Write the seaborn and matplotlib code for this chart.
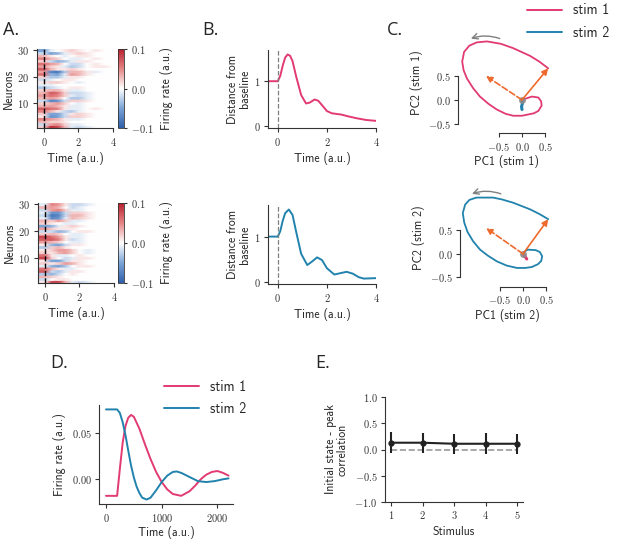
import numpy as np
import matplotlib
matplotlib.use('Agg')
import matplotlib.pyplot as plt
from matplotlib.lines import Line2D
import seaborn as sns

PINK = '#e23a72'
BLUE = '#2183ad'
ORANGE = '#ef6a2e'

# ---------------- data ----------------
# A: firing rate per neuron (x0.01), columns = pre-stimulus, then post times
heat_post_times = [0.4, 0.8, 1.2, 1.6, 2.0, 2.5, 3.0, 3.5, 4.0]
# rows listed from neuron 30 (top) down to neuron 1
rates_stim1 = [
    [-5, -1, 0, 1, 2, 1, 0, 1, 0, 0],
    [-2, -5, -4, -1, 1, 2, 1, 0, 0, 0],
    [3, 1, 0, -1, 0, 1, 1, 0, 0, 0],
    [5, 3, 2, 0, -1, -1, 0, 1, 0, 0],
    [2, -2, -4, -3, -1, 1, 1, 0, 0, 0],
    [6, 4, 3, 0, -2, -2, 0, 1, 0, 0],
    [4, 2, 1, -1, -3, -2, 0, 1, 1, 0],
    [7, 3, 1, 1, 2, 1, 0, 0, 0, 0],
    [4, -7, -8, -3, 3, 3, 1, -1, 0, 0],
    [6, -4, -5, -1, 4, 3, 1, 0, 0, 0],
    [2, -3, -3, -1, 1, 1, 0, 0, 0, 0],
    [-2, -1, 0, 1, 1, 0, 0, 0, 0, 0],
    [1, 2, 2, 1, 0, -1, 0, 0, 0, 0],
    [-1, -1, 0, 0, 0, 0, 0, 0, 0, 0],
    [-3, -2, -1, 0, 1, 1, 0, 0, 0, 0],
    [2, 3, 3, 1, -1, -1, 0, 0, 0, 0],
    [3, 7, 6, 2, -2, -2, -1, 0, 0, 0],
    [4, 6, 5, 2, -1, -2, -1, 0, 0, 0],
    [3, 4, 3, 0, -3, -3, -1, 0, 0, 0],
    [-2, -7, -6, -2, 2, 2, 1, 0, 0, 0],
    [2, 3, 4, 2, 0, -1, 0, 0, 0, 0],
    [3, 4, 3, 1, -1, -1, 0, 0, 0, 0],
    [7, 6, 5, 1, -1, -1, 0, 1, 0, 0],
    [5, 3, 1, -2, -3, -1, 0, 0, 0, 0],
    [2, -5, -5, -2, 1, 2, 1, 0, 0, 0],
    [1, -6, -5, -2, 2, 2, 1, 0, 0, 0],
    [5, 4, 3, 1, -1, -1, 0, 0, 0, 0],
    [3, 2, 2, 1, 0, 0, 0, 0, 0, 0],
    [-2, 4, 5, 2, -1, -1, 0, 0, 0, 0],
    [2, 9, 8, 3, -1, -2, -1, 0, 0, 0],
]
rates_stim2 = [
    [-1, 5, 4, 1, -2, -2, -1, 0, 0, 0],
    [3, 4, 3, 0, -2, -1, 0, 0, 0, 0],
    [-2, 4, 5, 2, -1, -1, 0, 0, 0, 0],
    [-1, -6, -6, -2, 2, 2, 1, 0, 0, 0],
    [-2, -8, -7, -2, 3, 3, 1, 0, 0, 0],
    [-1, -7, -6, -1, 3, 2, 1, 0, 0, 0],
    [3, 2, 4, 2, -1, -1, 0, 0, 0, 0],
    [2, 1, 0, -1, -1, 0, 0, 0, 0, 0],
    [-5, -4, -1, 1, 2, 1, 0, 0, 0, 0],
    [4, 2, 1, 1, 1, 0, 0, 0, 0, 0],
    [-2, -2, -4, -3, 0, 1, 1, 0, 0, 0],
    [2, 3, 2, 0, -1, -1, 0, 0, 0, 0],
    [8, 6, 4, 1, -1, -1, 0, 0, 0, 0],
    [7, 7, 5, 1, -2, -1, 0, 0, 0, 0],
    [4, 3, 2, 0, -1, -1, 0, 0, 0, 0],
    [1, -4, -5, -2, 1, 1, 0, 0, 0, 0],
    [-3, 2, 3, 1, 0, 0, 0, 0, 0, 0],
    [1, 2, 4, 4, 2, 0, -1, 0, 0, 0],
    [2, 1, 3, 4, 2, 0, -1, 0, 0, 0],
    [6, 1, -1, -1, 0, 1, 0, 0, 0, 0],
    [8, 2, 0, -2, -1, 1, 1, 0, 0, 0],
    [1, -5, -5, -2, 1, 1, 0, 0, 0, 0],
    [2, 1, 2, 4, 3, 1, 0, 0, 0, 0],
    [-1, -4, -5, -3, 0, 1, 1, 0, 0, 0],
    [6, 3, 1, -1, -1, 0, 0, 0, 0, 0],
    [7, -2, -3, -1, 1, 1, 0, 0, 0, 0],
    [-3, -4, -2, 0, 1, 0, 0, 0, 0, 0],
    [3, 2, 1, 0, 0, 0, 0, 0, 0, 0],
    [-2, 0, 1, 1, 0, 0, 0, 0, 0, 0],
    [1, 8, 8, 3, -1, -2, -1, 0, 0, 0],
]

# B: distance from baseline
dist_t1 = [-0.4, 0, 0.1, 0.2, 0.3, 0.4, 0.5, 0.6, 0.75, 0.95, 1.15, 1.3, 1.5,
           1.65, 1.85, 2.0, 2.2, 2.6, 2.8, 3.2, 3.6, 4.0]
dist_s1 = [1, 1, 1.12, 1.35, 1.53, 1.6, 1.57, 1.45, 1.1, 0.69, 0.5, 0.52, 0.59,
           0.56, 0.43, 0.33, 0.28, 0.25, 0.22, 0.17, 0.13, 0.11]
dist_t2 = [-0.4, 0, 0.1, 0.2, 0.3, 0.45, 0.6, 0.75, 0.95, 1.2, 1.4, 1.6, 1.8,
           2.0, 2.3, 2.55, 2.8, 3.05, 3.3, 3.5, 3.75, 4.0]
dist_s2 = [1, 1, 1.12, 1.35, 1.52, 1.6, 1.48, 1.1, 0.62, 0.37, 0.45, 0.54, 0.48,
           0.3, 0.16, 0.19, 0.22, 0.18, 0.1, 0.07, 0.075, 0.08]

# C: PC trajectories (from initial state back to baseline)
pc1_s1 = [0.56, 0.37, 0.17, -0.19, -0.45, -0.75, -0.97, -1.13, -1.24, -1.28,
          -1.25, -1.18, -1.05, -0.9, -0.72, -0.54, -0.35, -0.19, 0.0, 0.1,
          0.25, 0.35, 0.42, 0.41, 0.35, 0.21, 0.06, 0.0]
pc2_s1 = [0.66, 0.8, 0.92, 1.08, 1.17, 1.22, 1.2, 1.13, 1.0, 0.8, 0.62, 0.45,
          0.25, 0.07, -0.08, -0.2, -0.29, -0.33, -0.33, -0.31, -0.28, -0.23,
          -0.12, -0.03, 0.05, 0.07, 0.02, 0.0]
pc1_s2 = [0.54, 0.35, 0.15, -0.21, -0.45, -0.64, -1.0, -1.15, -1.24, -1.29,
          -1.26, -1.19, -1.07, -0.92, -0.75, -0.56, -0.35, -0.13, 0.05, 0.19,
          0.32, 0.39, 0.41, 0.36, 0.27, 0.1, 0.02, 0.0]
pc2_s2 = [0.74, 0.85, 0.95, 1.09, 1.16, 1.2, 1.2, 1.15, 1.05, 0.87, 0.67, 0.47,
          0.27, 0.09, -0.04, -0.16, -0.25, -0.3, -0.3, -0.28, -0.22, -0.15,
          -0.05, 0.04, 0.08, 0.09, 0.04, 0.0]
# the other stimulus, projected on these PCs (tiny)
other_in_s1 = ([0.0, 0.01, -0.01, 0.0], [0.0, -0.07, -0.14, -0.2])
other_in_s2 = ([0.0, 0.03, 0.06, 0.08], [0.0, -0.04, -0.08, -0.11])
init_state_s1 = (0.56, 0.66)
peak_state_s1 = (-0.77, 0.5)
init_state_s2 = (0.54, 0.74)
peak_state_s2 = (-0.79, 0.55)

# D: example neuron firing rate
rate_t1 = [0, 200, 250, 300, 350, 400, 450, 500, 600, 700, 800, 900, 1000, 1100,
           1200, 1350, 1500, 1600, 1700, 1800, 1900, 2000, 2100, 2200]
rate_s1 = [-0.018, -0.018, 0.012, 0.04, 0.058, 0.067, 0.07, 0.068, 0.055, 0.038,
           0.022, 0.008, -0.003, -0.011, -0.016, -0.018, -0.013, -0.007, 0.0,
           0.005, 0.008, 0.009, 0.007, 0.004]
rate_t2 = [0, 200, 250, 300, 350, 400, 450, 500, 550, 600, 650, 730, 800, 900,
           1000, 1100, 1200, 1270, 1350, 1450, 1550, 1650, 1800, 1950, 2100, 2200]
rate_s2 = [0.076, 0.076, 0.072, 0.062, 0.048, 0.031, 0.015, 0.002, -0.008,
           -0.015, -0.02, -0.022, -0.02, -0.012, -0.003, 0.004, 0.008, 0.0085,
           0.007, 0.004, 0.001, -0.002, -0.003, -0.002, 0.0, 0.001]

# E: initial state / peak correlation
stimulus = [1, 2, 3, 4, 5]
corr_mean = [0.13, 0.13, 0.11, 0.11, 0.11]
corr_sd = [0.2, 0.19, 0.19, 0.2, 0.19]

# ---------------- style ----------------
sns.set_style('ticks')
plt.rcParams['font.family'] = ['cmss10', 'DejaVu Sans']
plt.rcParams['mathtext.fontset'] = 'cm'
plt.rcParams['axes.linewidth'] = 0.8
plt.rcParams['axes.edgecolor'] = '#333333'
plt.rcParams['xtick.major.size'] = 3
plt.rcParams['ytick.major.size'] = 3
plt.rcParams['xtick.major.width'] = 0.8
plt.rcParams['ytick.major.width'] = 0.8
plt.rcParams['xtick.major.pad'] = 2.5
plt.rcParams['ytick.major.pad'] = 2.5
plt.rcParams['xtick.color'] = '#333333'
plt.rcParams['ytick.color'] = '#333333'

W, H = 617, 539
LAB = 8.5
TICK = 7.5
fig = plt.figure(figsize=(W / 100, H / 100), dpi=100)
heat_cmap = sns.blend_palette(['#2f5fab', '#7aa3d6', '#ffffff', '#e68585',
                               '#b61f2e'], as_cmap=True)


def box(l, t, r, b):
    return fig.add_axes([l / W, 1 - b / H, (r - l) / W, (b - t) / H])


def tex(vals, fmt):
    return [('$%s$' % format(v, fmt)) for v in vals]


def ticks(ax, xt, xf, yt, yf):
    ax.set_xticks(xt, tex(xt, xf), fontsize=TICK)
    ax.set_yticks(yt, tex(yt, yf), fontsize=TICK)


def heatmap(ax, cax, rows):
    z = np.array(rows[::-1], dtype=float) * 0.01
    z = np.column_stack([z[:, 0], z])           # pre value held up to t=0
    z = np.repeat(z, 2, axis=0)                 # flat rows, smooth in time
    xs = np.array([-0.4, 0.0] + heat_post_times)
    ys = np.repeat(np.arange(1, 31), 2) + np.tile([-0.5, 0.5], 30)
    mesh = ax.pcolormesh(xs, ys, z, shading='gouraud', cmap=heat_cmap,
                         vmin=-0.1, vmax=0.1)
    ax.axvline(0, color='k', ls='--', lw=1)
    ax.set_xlim(-0.4, 4)
    ax.set_ylim(0.5, 30.5)
    ticks(ax, [0, 2, 4], 'g', [10, 20, 30], 'g')
    ax.set_ylabel('Neurons', fontsize=LAB, labelpad=2)
    ax.set_xlabel('Time (a.u.)', fontsize=LAB, labelpad=3)
    sns.despine(ax=ax)
    cb = fig.colorbar(mesh, cax=cax)
    cb.set_ticks([-0.1, 0, 0.1], labels=tex([-0.1, 0.0, 0.1], '.1f'))
    cb.ax.tick_params(labelsize=TICK, length=2.5, width=0.8)
    cb.outline.set_linewidth(0.6)
    cb.set_label('Firing rate (a.u.)', fontsize=LAB, labelpad=5)


def distance(ax, t, d, color):
    sns.lineplot(x=t, y=d, ax=ax, color=color, lw=1.4, sort=False)
    ax.axvline(0, color='gray', ls='--', lw=0.9)
    ax.set_xlim(-0.4, 4)
    ax.set_ylim(-0.05, 1.7)
    ticks(ax, [0, 2, 4], 'g', [0, 1], 'g')
    ax.set_xlabel('Time (a.u.)', fontsize=LAB, labelpad=3)
    ax.set_ylabel('Distance from\nbaseline', fontsize=LAB, labelpad=2,
                  linespacing=1.0)
    sns.despine(ax=ax)


def pcs(ax, x, y, color, other, ocolor, init, peak, name, xlim, ylim):
    ax.plot(x, y, color=color, lw=1.3)
    ax.plot(other[0], other[1], color=ocolor, lw=2.2, solid_capstyle='round')
    ax.plot([0], [0], 'o', color='#8a8a8a', ms=4, alpha=0.8)
    ax.annotate('', xy=init, xytext=(0, 0),
                arrowprops=dict(arrowstyle='-|>', color=ORANGE, lw=1.2,
                                mutation_scale=9, shrinkA=0, shrinkB=0))
    ax.annotate('', xy=peak, xytext=(0, 0),
                arrowprops=dict(arrowstyle='-|>', color=ORANGE, lw=1.2,
                                ls='--', mutation_scale=9, shrinkA=0,
                                shrinkB=0))
    ax.annotate('', xy=(-1.15, 1.26), xytext=(-0.42, 1.26),
                arrowprops=dict(arrowstyle='->', color='gray', lw=1.0,
                                connectionstyle='arc3,rad=0.2'))
    ax.set_xlim(*xlim)
    ax.set_ylim(*ylim)
    ticks(ax, [-0.5, 0, 0.5], '.1f', [-0.5, 0, 0.5], '.1f')
    ax.spines['left'].set_bounds(-0.5, 0.5)
    ax.spines['bottom'].set_bounds(-0.5, 0.5)
    ax.set_xlabel('PC1 (%s)' % name, fontsize=LAB, labelpad=2)
    ax.set_ylabel('PC2 (%s)' % name, fontsize=LAB, labelpad=3)
    sns.despine(ax=ax)


# A
heatmap(box(37, 49, 113, 128), box(118, 49, 124, 128), rates_stim1)
heatmap(box(38, 203, 114, 283), box(118, 203, 124, 283), rates_stim2)

# B
distance(box(268, 50, 376, 128), dist_t1, dist_s1, PINK)
distance(box(268, 205, 376, 284), dist_t2, dist_s2, BLUE)

# C
pcs(box(458, 32.8, 554.7, 133), pc1_s1, pc2_s1, PINK, other_in_s1, BLUE,
    init_state_s1, peak_state_s1, 'stim 1', (-1.37, 0.7), (-0.69, 1.4))
pcs(box(460, 188.2, 555.7, 286.7), pc1_s2, pc2_s2, BLUE, other_in_s2, PINK,
    init_state_s2, peak_state_s2, 'stim 2', (-1.35, 0.7), (-0.7, 1.4))

handles = [Line2D([], [], color=PINK, lw=1.4), Line2D([], [], color=BLUE, lw=1.4)]
leg_kw = dict(frameon=False, fontsize=10, handlelength=2.5, handletextpad=0.8,
              labelspacing=0.6, borderpad=0, borderaxespad=0, loc='upper left')
fig.legend(handles, ['stim 1', 'stim 2'],
           bbox_to_anchor=(527 / W, 1 - 3.5 / H), **leg_kw)

# D
ax = box(99.3, 405, 233, 504.3)
sns.lineplot(x=rate_t1, y=rate_s1, ax=ax, color=PINK, lw=1.4)
sns.lineplot(x=rate_t2, y=rate_s2, ax=ax, color=BLUE, lw=1.4)
ax.set_xlim(-120, 2280)
ax.set_ylim(-0.0272, 0.0808)
ticks(ax, [0, 1000, 2000], 'g', [0.0, 0.05], '.2f')
ax.set_xlabel('Time (a.u.)', fontsize=LAB, labelpad=1.5)
ax.set_ylabel('Firing rate (a.u.)', fontsize=LAB, labelpad=4)
sns.despine(ax=ax)
fig.legend(handles, ['stim 1', 'stim 2'],
           bbox_to_anchor=(164 / W, 1 - 380 / H), **leg_kw)

# E
ax = box(385, 397.3, 522.7, 501.7)
ax.plot([1, 5], [0, 0], ls='--', color='#999999', lw=1.2)
ax.errorbar(stimulus, corr_mean, yerr=corr_sd, color='#222222', lw=1.5,
            elinewidth=1.5, marker='o', ms=3.5, capsize=0)
ax.set_xlim(0.81, 5.17)
ax.set_ylim(-1, 1)
ticks(ax, stimulus, 'g', [-1.0, -0.5, 0.0, 0.5, 1.0], '.1f')
ax.set_xlabel('Stimulus', fontsize=LAB, labelpad=3)
ax.set_ylabel('Initial state - peak\ncorrelation', fontsize=LAB, labelpad=4,
              linespacing=1.0)
sns.despine(ax=ax)

# panel letters
for letter, x, y in [('A.', 3, 35), ('B.', 202, 35), ('C.', 387, 35),
                     ('D.', 50, 368), ('E.', 315, 368)]:
    fig.text(x / W, 1 - y / H, letter, fontsize=13, family='Open Sans',
             va='baseline', ha='left')

fig.savefig('out.png', dpi=100)
